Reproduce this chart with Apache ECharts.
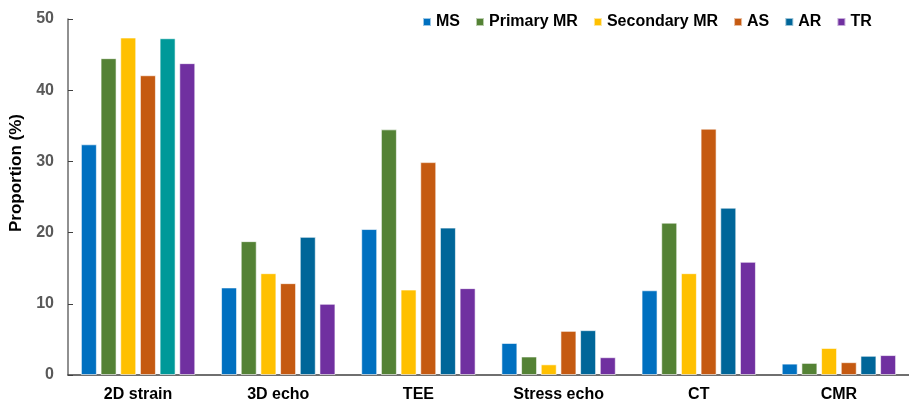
<!DOCTYPE html>
<html><head><meta charset="utf-8">
<script src="https://cdn.jsdelivr.net/npm/echarts@6/dist/echarts.min.js"></script>
<style>html,body{margin:0;padding:0;background:#fff}#c{width:909px;height:403px}</style>
</head><body><div id="c"></div>
<script>
const categories = ['2D strain','3D echo','TEE','Stress echo','CT','CMR'];
const seriesNames = ['MS','Primary MR','Secondary MR','AS','AR','TR'];
const MS = [32.4, 12.3, 20.5, 4.5, 11.9, 1.6];
const PrimaryMR = [44.5, 18.8, 34.5, 2.6, 21.4, 1.7];
const SecondaryMR = [47.4, 14.3, 12.0, 1.5, 14.3, 3.8];
const AS = [42.1, 12.9, 29.9, 6.2, 34.6, 1.8];
const AR = [47.3, 19.4, 20.7, 6.3, 23.5, 2.7];
const TR = [43.8, 10.0, 12.2, 2.5, 15.9, 2.8];
const yTicks = [0, 10, 20, 30, 40, 50];
const colors = ['#0070C0','#548235','#FFC000','#C55A11','#006699','#7030A0'];
const values = [MS, PrimaryMR, SecondaryMR, AS, AR, TR];
const FONT = 'Liberation Sans, Arial, sans-serif';

const chart = echarts.init(document.getElementById('c'));
chart.setOption({
  animation: false,
  color: colors,
  legend: {
    top: 9, left: 417, itemWidth: 8, itemHeight: 8, itemGap: 15,
    icon: 'rect',
    textStyle: {fontFamily: FONT, fontWeight: 'bold', fontSize: 16, color: '#000'},
    data: seriesNames
  },
  grid: {left: 68, right: -9, top: 19, bottom: 27},
  xAxis: {
    type: 'category', data: categories,
    axisLine: {lineStyle: {color: '#404040', width: 1.5}},
    axisTick: {show: false},
    axisLabel: {fontFamily: FONT, fontWeight: 'bold', fontSize: 16, color: '#000', margin: 12}
  },
  yAxis: {
    type: 'value', min: 0, max: 50, interval: 10,
    name: 'Proportion (%)', nameLocation: 'middle', nameGap: 38,
    nameTextStyle: {fontFamily: FONT, fontWeight: 'bold', fontSize: 17, color: '#000', padding: [0, 0, 0, 48]},
    axisLine: {show: true, lineStyle: {color: '#6b6b6b', width: 1.5}},
    axisTick: {show: true, inside: true, length: 5, lineStyle: {color: '#404040'}},
    splitLine: {show: false},
    axisLabel: {fontFamily: FONT, fontWeight: 'bold', fontSize: 16, color: '#595959', margin: 14,
      formatter: v => yTicks.includes(v) ? String(v) : ''}
  },
  series: seriesNames.map((n, i) => ({
    name: n, type: 'bar', barWidth: 16, barGap: '23%',
    itemStyle: {color: colors[i], borderColor: 'rgba(255,255,255,0.6)', borderWidth: 1},
    data: values[i].map((v, j) => (n === 'AR' && j === 0) ? {value: v, itemStyle: {color: '#009999'}} : v)
  }))
});
</script></body></html>
